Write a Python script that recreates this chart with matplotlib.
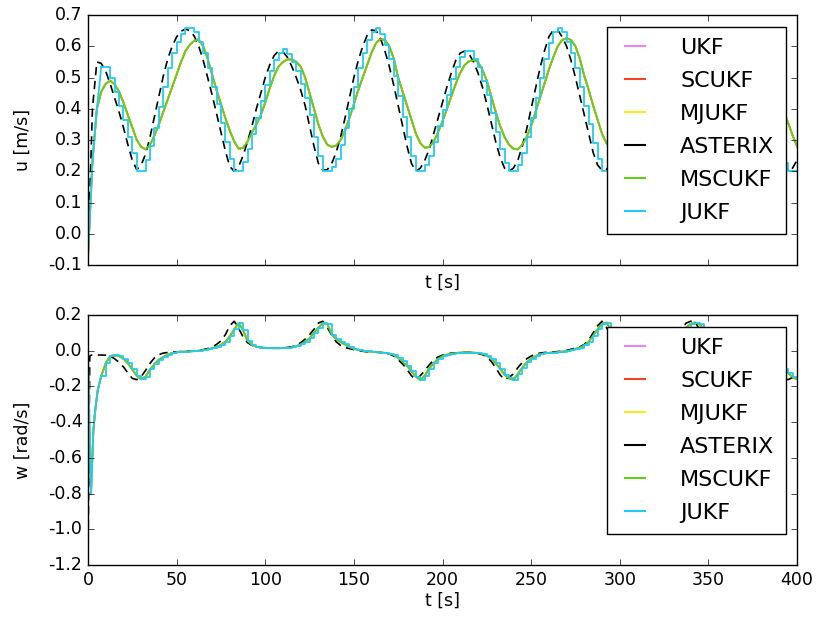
import numpy as np
import matplotlib.pyplot as plt
from matplotlib.lines import Line2D

plt.style.use('classic')

# time grid of the velocity plot, 2.5 s
t = np.arange(0, 400.1, 2.5)
# time grid of the yaw-rate plot (denser at the start)
tw = np.concatenate([[0, 1, 1.7, 3, 4, 5.5], np.arange(7.5, 400.1, 2.5)])

labels = ['UKF', 'SCUKF', 'MJUKF', 'ASTERIX', 'MSCUKF', 'JUKF']
colors = ['#ee82ee', '#f0432a', '#f5ea1c', 'k', '#66cc1a', '#22ccf0']

# surge velocity u [m/s]
asterix_u = [-0.07, 0.40, 0.55, 0.545, 0.52, 0.48, 0.435, 0.39,
             0.34, 0.285, 0.235, 0.205, 0.22, 0.255, 0.31, 0.375,
             0.44, 0.505, 0.56, 0.60, 0.63, 0.648, 0.655, 0.65,
             0.632, 0.60, 0.555, 0.50, 0.445, 0.385, 0.325, 0.265,
             0.215, 0.20, 0.215, 0.25, 0.295, 0.345, 0.40, 0.45,
             0.50, 0.54, 0.57, 0.585, 0.582, 0.565, 0.535, 0.50,
             0.46, 0.41, 0.345, 0.28, 0.225, 0.203, 0.205, 0.225,
             0.26, 0.31, 0.37, 0.435, 0.50, 0.555, 0.60, 0.635,
             0.652, 0.65, 0.625, 0.585, 0.535, 0.475, 0.41, 0.345,
             0.28, 0.225, 0.20, 0.21, 0.235, 0.27, 0.32, 0.37,
             0.42, 0.47, 0.515, 0.555, 0.578, 0.585, 0.575, 0.55,
             0.515, 0.47, 0.415, 0.355, 0.295, 0.245, 0.21, 0.20,
             0.21, 0.235, 0.28, 0.335, 0.40, 0.465, 0.53, 0.585,
             0.63, 0.652, 0.652, 0.63, 0.60, 0.555, 0.50, 0.44,
             0.38, 0.32, 0.26, 0.22, 0.203, 0.205, 0.225, 0.26,
             0.31, 0.365, 0.42, 0.475, 0.525, 0.565, 0.585, 0.58,
             0.56, 0.525, 0.475, 0.42, 0.36, 0.30, 0.25, 0.215,
             0.20, 0.205, 0.225, 0.265, 0.32, 0.385, 0.45, 0.515,
             0.57, 0.615, 0.645, 0.655, 0.645, 0.62, 0.58, 0.53,
             0.47, 0.41, 0.35, 0.29, 0.24, 0.21, 0.20, 0.21,
             0.235]

mscukf_u = [-0.07, 0.23, 0.40, 0.455, 0.48, 0.49, 0.478, 0.455,
            0.42, 0.38, 0.34, 0.30, 0.278, 0.27, 0.285, 0.315,
            0.35, 0.39, 0.43, 0.47, 0.51, 0.55, 0.585, 0.605,
            0.618, 0.622, 0.60, 0.56, 0.51, 0.46, 0.415, 0.37,
            0.33, 0.295, 0.272, 0.275, 0.295, 0.325, 0.35, 0.38,
            0.42, 0.465, 0.505, 0.535, 0.55, 0.558, 0.558, 0.55,
            0.535, 0.50, 0.45, 0.40, 0.35, 0.31, 0.285, 0.278,
            0.282, 0.30, 0.33, 0.37, 0.415, 0.46, 0.50, 0.54,
            0.58, 0.61, 0.623, 0.62, 0.60, 0.56, 0.50, 0.455,
            0.41, 0.365, 0.32, 0.29, 0.275, 0.278, 0.295, 0.325,
            0.36, 0.40, 0.44, 0.48, 0.515, 0.54, 0.552, 0.556,
            0.55, 0.525, 0.49, 0.44, 0.39, 0.345, 0.31, 0.285,
            0.272, 0.27, 0.285, 0.31, 0.345, 0.39, 0.435, 0.48,
            0.525, 0.565, 0.60, 0.62, 0.626, 0.62, 0.60, 0.56,
            0.505, 0.46, 0.41, 0.365, 0.32, 0.29, 0.275, 0.278,
            0.295, 0.325, 0.36, 0.40, 0.44, 0.48, 0.515, 0.54,
            0.555, 0.56, 0.552, 0.525, 0.49, 0.44, 0.39, 0.345,
            0.31, 0.288, 0.276, 0.273, 0.285, 0.31, 0.345, 0.39,
            0.435, 0.48, 0.525, 0.565, 0.60, 0.62, 0.626, 0.615,
            0.59, 0.555, 0.515, 0.47, 0.43, 0.39, 0.355, 0.315,
            0.28]

jukf_u = [-0.07, 0.23, 0.40, 0.534, 0.534, 0.50, 0.455, 0.41,
          0.365, 0.31, 0.26, 0.20, 0.20, 0.235, 0.28, 0.34,
          0.405, 0.47, 0.53, 0.58, 0.615, 0.64, 0.66, 0.66,
          0.645, 0.615, 0.58, 0.53, 0.47, 0.415, 0.355, 0.295,
          0.24, 0.20, 0.20, 0.23, 0.27, 0.32, 0.37, 0.425,
          0.475, 0.52, 0.555, 0.58, 0.59, 0.575, 0.55, 0.52,
          0.48, 0.435, 0.38, 0.31, 0.25, 0.20, 0.20, 0.215,
          0.24, 0.285, 0.34, 0.40, 0.47, 0.53, 0.58, 0.62,
          0.645, 0.66, 0.64, 0.605, 0.56, 0.505, 0.44, 0.375,
          0.31, 0.25, 0.20, 0.20, 0.22, 0.25, 0.295, 0.345,
          0.395, 0.445, 0.495, 0.535, 0.565, 0.585, 0.585, 0.56,
          0.535, 0.49, 0.445, 0.385, 0.325, 0.27, 0.225, 0.20,
          0.20, 0.22, 0.26, 0.31, 0.37, 0.435, 0.50, 0.56,
          0.61, 0.645, 0.66, 0.645, 0.615, 0.58, 0.53, 0.47,
          0.41, 0.35, 0.29, 0.24, 0.20, 0.20, 0.215, 0.245,
          0.285, 0.34, 0.395, 0.45, 0.50, 0.545, 0.575, 0.585,
          0.57, 0.545, 0.50, 0.45, 0.39, 0.33, 0.275, 0.23,
          0.205, 0.20, 0.215, 0.245, 0.29, 0.35, 0.415, 0.48,
          0.545, 0.595, 0.63, 0.66, 0.65, 0.635, 0.60, 0.555,
          0.50, 0.44, 0.38, 0.32, 0.265, 0.225, 0.20, 0.20,
          0.20]

ukf_u = mscukf_u
scukf_u = mscukf_u
mjukf_u = mscukf_u

# yaw rate w [rad/s]
asterix_w = [-1.15, -0.03, -0.025, -0.024, -0.024, -0.024,
             -0.024, -0.025, -0.03, -0.045, -0.065, -0.09, -0.125, -0.155,
             -0.162, -0.145, -0.11, -0.07, -0.04, -0.022, -0.013, -0.01,
             -0.008, -0.006, -0.005, -0.004, -0.002, 0.0, 0.003, 0.006,
             0.012, 0.02, 0.035, 0.055, 0.09, 0.14, 0.165, 0.125,
             0.077, 0.045, 0.03, 0.022, 0.018, 0.015, 0.014, 0.014,
             0.015, 0.016, 0.018, 0.022, 0.03, 0.045, 0.065, 0.09,
             0.12, 0.155, 0.165, 0.13, 0.088, 0.05, 0.03, 0.018,
             0.012, 0.006, 0.002, -0.003, -0.006, -0.007, -0.008, -0.01,
             -0.012, -0.018, -0.03, -0.05, -0.075, -0.105, -0.14, -0.162,
             -0.14, -0.11, -0.08, -0.052, -0.035, -0.025, -0.018, -0.014,
             -0.012, -0.01, -0.01, -0.01, -0.012, -0.015, -0.022, -0.035,
             -0.06, -0.095, -0.135, -0.162, -0.15, -0.13, -0.095, -0.066,
             -0.045, -0.03, -0.02, -0.013, -0.01, -0.008, -0.007, -0.005,
             -0.002, 0.002, 0.008, 0.015, 0.022, 0.035, 0.06, 0.10,
             0.14, 0.165, 0.13, 0.085, 0.05, 0.03, 0.02, 0.016,
             0.015, 0.014, 0.014, 0.015, 0.017, 0.02, 0.027, 0.037,
             0.05, 0.07, 0.095, 0.125, 0.155, 0.165, 0.16, 0.12,
             0.08, 0.05, 0.032, 0.02, 0.012, 0.006, 0.0, -0.005,
             -0.008, -0.01, -0.012, -0.015, -0.02, -0.03, -0.045, -0.07,
             -0.10, -0.13, -0.155, -0.162, -0.15, -0.13]

mscukf_w = [-0.03, -0.55, -0.80, -0.45, -0.34, -0.22,
            -0.14, -0.07, -0.03, -0.025, -0.03, -0.045, -0.07, -0.105,
            -0.14, -0.16, -0.145, -0.105, -0.075, -0.05, -0.035, -0.022,
            -0.013, -0.008, -0.006, -0.005, -0.004, -0.002, 0.0, 0.004,
            0.008, 0.013, 0.02, 0.032, 0.05, 0.08, 0.12, 0.155,
            0.115, 0.055, 0.032, 0.022, 0.018, 0.016, 0.015, 0.014,
            0.014, 0.015, 0.016, 0.019, 0.025, 0.035, 0.05, 0.07,
            0.10, 0.13, 0.155, 0.15, 0.09, 0.065, 0.048, 0.035,
            0.02, 0.01, 0.004, 0.0, -0.004, -0.006, -0.008, -0.01,
            -0.012, -0.016, -0.025, -0.04, -0.06, -0.085, -0.115, -0.145,
            -0.165, -0.14, -0.10, -0.07, -0.045, -0.03, -0.022, -0.016,
            -0.013, -0.011, -0.01, -0.01, -0.011, -0.013, -0.018, -0.028,
            -0.045, -0.07, -0.10, -0.135, -0.155, -0.163, -0.13, -0.095,
            -0.065, -0.045, -0.03, -0.02, -0.015, -0.012, -0.01, -0.008,
            -0.005, -0.002, 0.003, 0.01, 0.018, 0.03, 0.05, 0.085,
            0.12, 0.15, 0.158, 0.12, 0.075, 0.045, 0.03, 0.02,
            0.02, 0.016, 0.015, 0.015, 0.016, 0.018, 0.022, 0.03,
            0.04, 0.055, 0.075, 0.10, 0.13, 0.15, 0.158, 0.15,
            0.11, 0.07, 0.045, 0.03, 0.018, 0.01, 0.004, -0.002,
            -0.005, -0.008, -0.01, -0.012, -0.015, -0.02, -0.03, -0.045,
            -0.06, -0.08, -0.10, -0.125, -0.148, -0.16]

jukf_w = mscukf_w
ukf_w = mscukf_w
scukf_w = mscukf_w
mjukf_w = mscukf_w

fig = plt.figure(figsize=(8.19, 6.22), dpi=100, facecolor='white')
ax1 = fig.add_axes([88/819, 1-265/622, 709/819, 250/622])
ax2 = fig.add_axes([88/819, 1-565/622, 709/819, 250/622])

lw = 1.3


def draw(ax, x, ukf, scukf, mjukf, ast, mscukf, jukf, nsmooth):
    ax.plot(x, ukf, color=colors[0], lw=lw)
    ax.plot(x, scukf, color=colors[1], lw=lw)
    ax.plot(x, mjukf, color=colors[2], lw=lw)
    ax.plot(x, ast, color='k', lw=1.2, dashes=(6, 4))
    ax.plot(x, mscukf, color=colors[4], lw=lw)
    # JUKF: smooth start, then sample-and-hold
    ax.plot(x[:nsmooth + 1], jukf[:nsmooth + 1], color=colors[5], lw=lw)
    ax.plot(x[nsmooth:], jukf[nsmooth:], color=colors[5], lw=lw,
            drawstyle='steps-post')
    handles = [Line2D([], [], color=c, lw=1.5) for c in colors]
    ax.legend(handles, labels, loc='upper left',
              bbox_to_anchor=(0.732, 0.952), borderaxespad=0,
              fontsize=16, handlelength=1.5, handletextpad=1.3,
              labelspacing=0.58, borderpad=0.5, frameon=True,
              fancybox=False)
    ax.set_xlim(0, 400)
    ax.set_xticks(np.arange(0, 401, 50))
    ax.tick_params(labelsize=12.5)
    ax.set_xlabel('t [s]', fontsize=12.5, labelpad=2)


draw(ax1, t, ukf_u, scukf_u, mjukf_u, asterix_u, mscukf_u,
     np.array(jukf_u), 3)
u_ticks = np.round(np.arange(-0.1, 0.71, 0.1), 1)
ax1.set_ylim(-0.1, 0.7)
ax1.set_yticks(u_ticks)
ax1.set_yticklabels(['%.1f' % v for v in u_ticks + 0.0])
ax1.set_xticklabels([])
ax1.set_ylabel('u [m/s]', fontsize=12.5, labelpad=12)

draw(ax2, tw, ukf_w, scukf_w, mjukf_w, asterix_w, mscukf_w,
     np.array(jukf_w), 6)
w_ticks = np.round(np.arange(-1.2, 0.21, 0.2), 1)
ax2.set_ylim(-1.2, 0.2)
ax2.set_yticks(w_ticks)
ax2.set_yticklabels(['%.1f' % v for v in w_ticks + 0.0])
ax2.set_ylabel('w [rad/s]', fontsize=12.5, labelpad=12)

fig.savefig('out.png', dpi=100, facecolor='white')
